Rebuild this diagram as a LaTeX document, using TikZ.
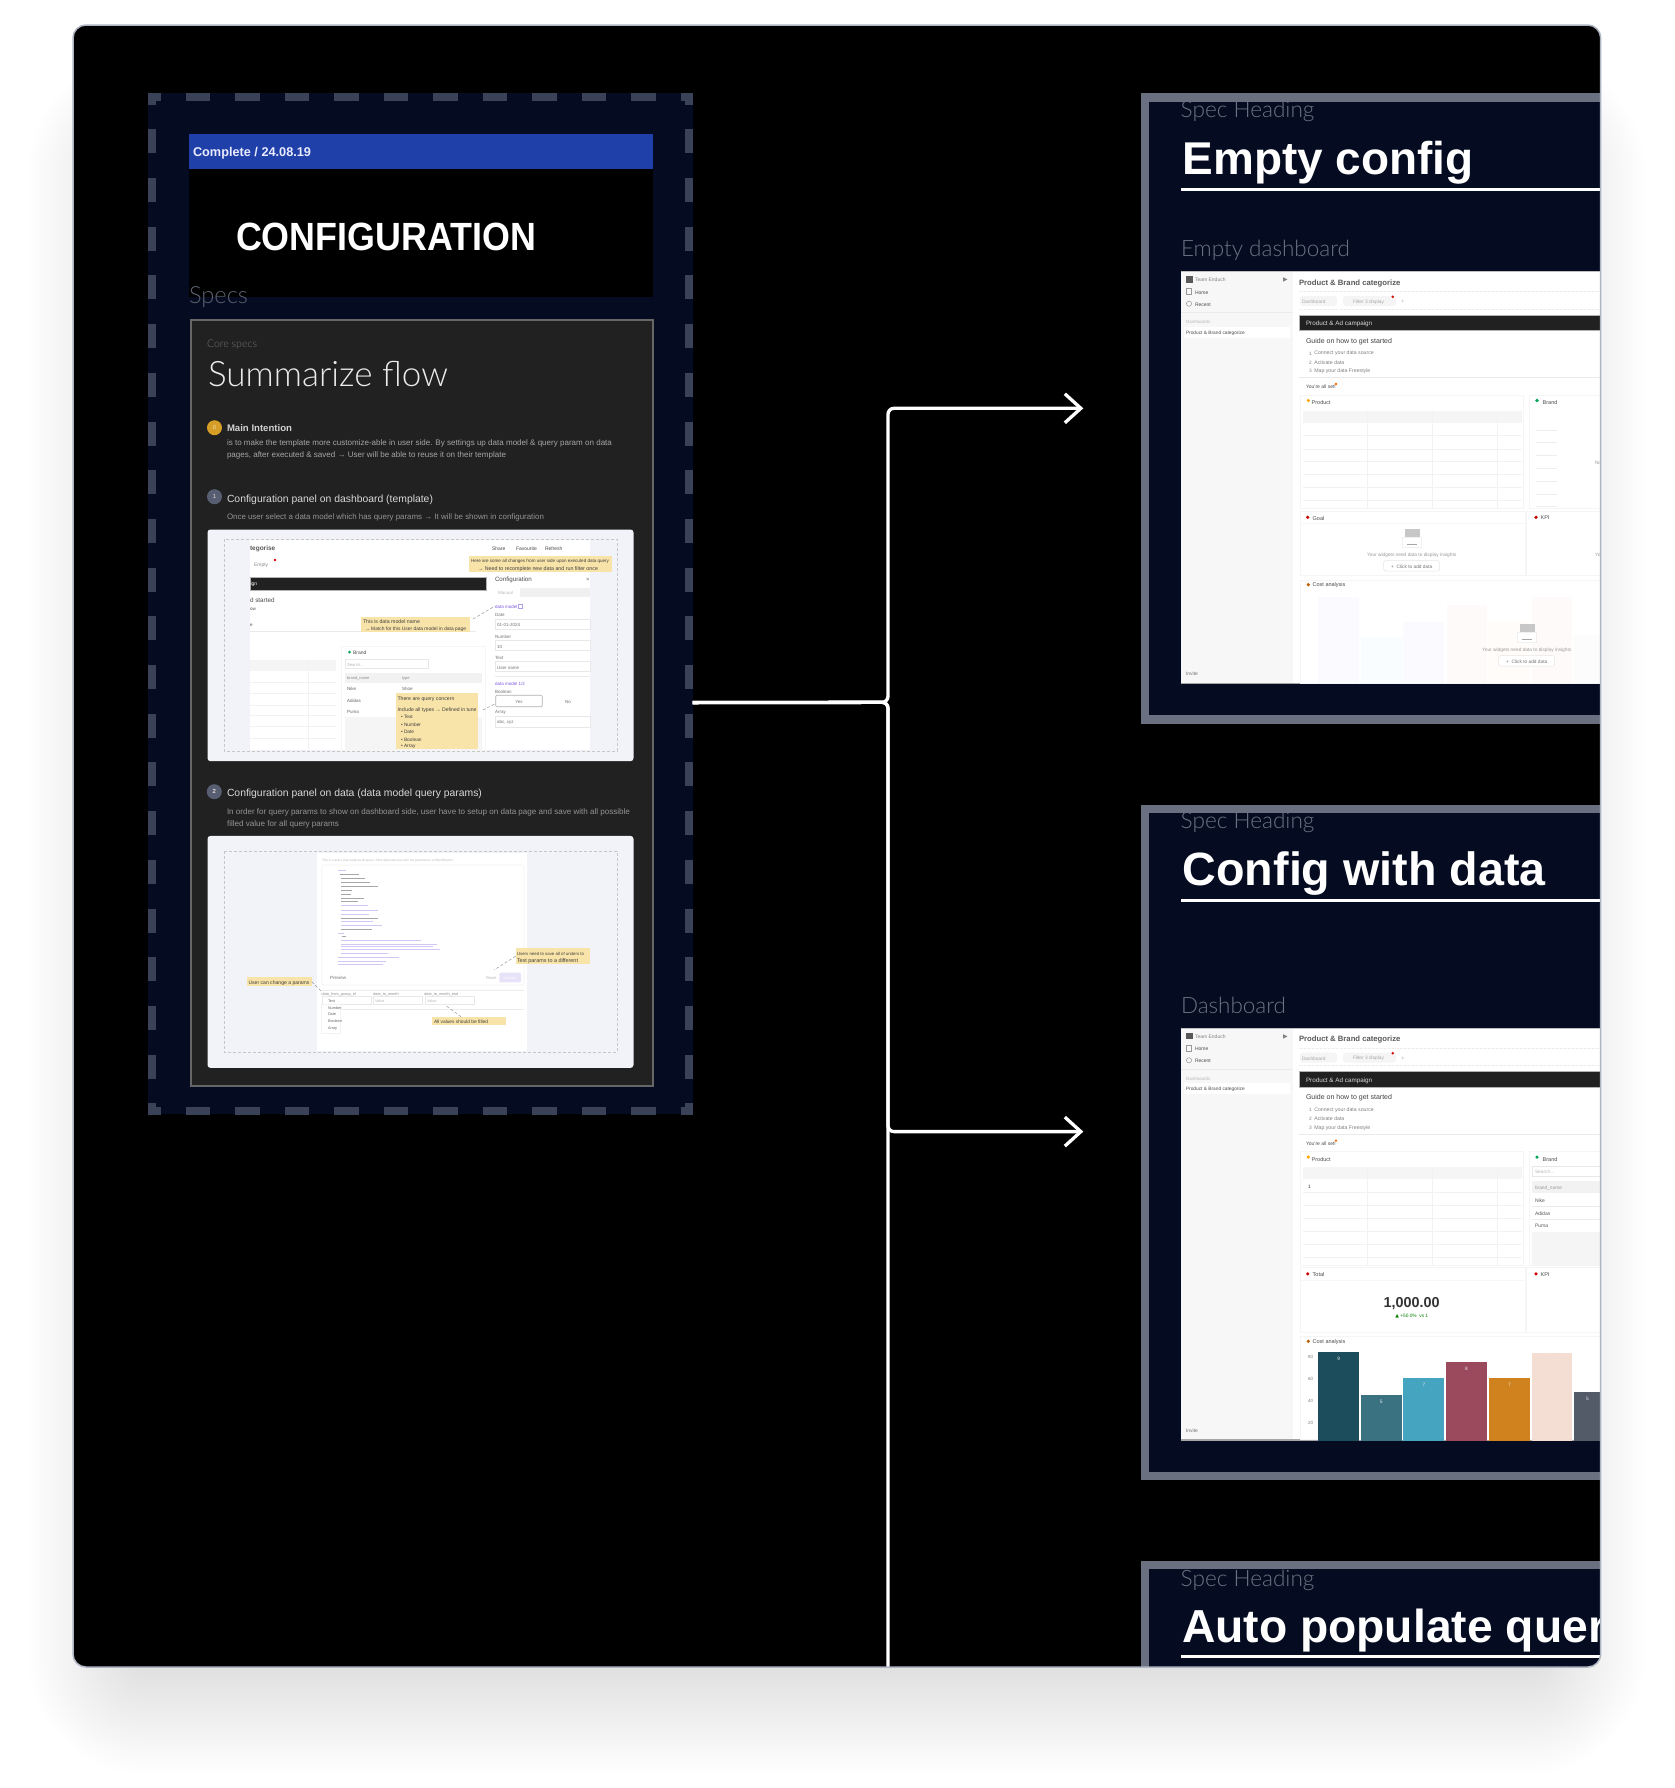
\documentclass[tikz,border=0pt]{standalone}
\usepackage{fontspec}
\usepackage{graphicx}
\setmainfont{Liberation Sans}
\newfontfamily\lightfam{Lato Light}
\newfontfamily\medfam{Liberation Sans Bold}
\newfontfamily\arrowfam{DejaVu Sans}
\usetikzlibrary{arrows.meta,calc}
\definecolor{navy}{HTML}{050B20}
\definecolor{dashc}{HTML}{3A4258}
\definecolor{framec}{HTML}{6A7080}
\definecolor{subc}{HTML}{6B7284}
\definecolor{noteb}{HTML}{F8E3A8}
\definecolor{cardc}{HTML}{212121}
\definecolor{shotc}{HTML}{F1F3F8}
\definecolor{purp}{HTML}{7C5CE0}
\definecolor{amber}{HTML}{D69E26}
\definecolor{barblue}{HTML}{1E40A8}
\definecolor{edgec}{HTML}{AEB5C2}
\newcounter{nd}
\newcommand{\T}[4][]{\stepcounter{nd}\node[lab,#1] (t\thend) at (#2,#3) {#4};}
\newcommand{\W}[2]{\resizebox{#1pt}{!}{#2}}
\tikzset{
  lab/.style={anchor=west,inner sep=0pt,outer sep=0pt,text=black!80,yshift=-0.8pt},
  fs/.style={font=\fontsize{#1}{#1}\selectfont},
  hair/.style={draw=black!8,line width=0.6pt},
  boxl/.style={draw=black!9,line width=0.6pt,fill=white},
  cardl/.style={draw=black!4,line width=0.6pt},
  note/.style={fill=noteb,draw=none,anchor=north west,inner sep=0pt,outer sep=0pt},
  notet/.style={fs=4.8,text=black!75},
  call/.style={draw=black!40,line width=0.5pt,densely dashed},
  conn/.style={draw=white,line width=3.3pt},
  tipc/.style={-{Straight Barb[length=16pt,width=29pt]}},
  cfgdash/.style={draw=dashc,line width=8pt},
  spec/.style={fill=navy,draw=framec,line width=8.3pt,anchor=north west,inner sep=0pt,outer sep=0pt},
  faint/.style={text=black!28},
  gline/.style={draw=black!22,line width=.7pt,densely dashed},
}
\newcommand{\dashbase}[1]{%
  \fill[white] (1180.7,271.7) rectangle (1600,683.3);
  \draw[draw=black!25,line width=1.2pt] (1180.7,271.7) -- (1600,271.7);
  \draw[draw=black!35,line width=1.2pt] (1180.7,683.3) -- (1600,683.3);
  \fill[black!3] (1180.7,272.3) rectangle (1293.3,682.7);
  \fill[black!65] (1186,276) rectangle (1192.5,282.5);
  \T[fs=5,text=black!50]{1195}{279.3}{Team Enduch}
  \T[fs=6,text=black!50]{1283}{279.3}{\arrowfam ▶}
  \draw[black!40,line width=.5pt] (1186.5,288.5) rectangle (1191.5,294.5);
  \T[fs=5,text=black!70]{1195}{291.7}{Home}
  \draw[black!40,line width=.5pt] (1189,303.7) circle (2.6);
  \T[fs=5,text=black!70]{1195}{303.7}{Recent}
  \draw[hair] (1181,312.7) -- (1293,312.7);
  \T[fs=4.5,faint]{1186}{321}{Dashboards}
  \fill[white] (1184,326.7) rectangle (1290,337.7);
  \T[fs=4.8,text=black!70]{1186}{332}{Product \& Brand categorize}
  \T[fs=5,text=black!55]{1186}{673.3}{Invite}
  \T[font=\fontsize{7.7}{7.7}\bfseries\selectfont,text=black!65]{1299}{282.3}{Product \& Brand categorize}
  \draw[hair,densely dotted] (1299,291.7) -- (1600,291.7);
  \draw[hair,densely dotted] (1299,309) -- (1600,309);
  \fill[black!4,rounded corners=3] (1300,296) rectangle (1337,306);
  \fill[black!4,rounded corners=3] (1343,296) rectangle (1396,306);
  \T[fs=4.8,text=black!35]{1302}{301}{Dashboard}
  \T[fs=4.8,text=black!35]{1353}{301}{Filter 3 display}
  \fill[red!85!black] (1392.7,296.7) circle (1.4);
  \T[fs=6,faint]{1401}{301}{+}
  \draw[black!30,line width=1pt,fill=cardc] (1299,315.3) rectangle (1610,330.7);
  \T[fs=6.3,text=white!85!black]{1306}{323}{Product \& Ad campaign}
  \T[fs=7,text=black!75]{1306}{340.7}{Guide on how to get started}
  \T[fs=4.8,text=black!50]{1309}{352.7}{1}
  \T[fs=4.8,text=black!50]{1309}{361.7}{2}
  \T[fs=4.8,text=black!50]{1309}{370.3}{3}
  \T[fs=5.2,text=black!50]{1314.3}{352.7}{Connect your data source}
  \T[fs=5.2,text=black!50]{1314.3}{361.7}{Activate data}
  \T[fs=5.2,text=black!50]{1314.3}{370.3}{Map your data Freestyle}
  \draw[hair] (1299,377.7) -- (1600,377.7);
  \T[fs=5,text=black!70]{1306}{386}{You're all set!}
  \fill[orange!80!red] (1336,384) circle (1.3);
  \draw[cardl] (1300,395) rectangle (1523.3,508.3);
  \draw[cardl] (1529,395) rectangle (1610,508.3);
  \fill[orange!70!yellow] (1308.3,400.5) circle (1.8);
  \T[fs=5.5,text=black!70]{1311.7}{401.7}{Product}
  \fill[teal!70!green] (1537,400.5) circle (1.8);
  \T[fs=5.5,text=black!70]{1542.7}{401.7}{Brand}
  \fill[black!4] (1303.3,410.7) rectangle (1521.7,422.7);
  \foreach \yy in {435.7,449,461.7,474.3,487.7,500.7}{\draw[draw=black!5,line width=.6pt] (1303.3,\yy) -- (1521.7,\yy);}
  \foreach \xx in {1367.3,1432.3,1497.3}{\draw[draw=black!5,line width=.6pt] (\xx,410.7) -- (\xx,508);}
  \draw[cardl] (1300,511) rectangle (1525,575.7);
  \draw[cardl] (1526.7,511) rectangle (1610,575.7);
  \draw[black!3,line width=.5pt] (1300,523.3) -- (1525,523.3);
  \fill[red!80!black] (1307.7,517.3) circle (1.8);
  \T[fs=5.5,text=black!70]{1312.7}{517.3}{#1}
  \fill[red!80!black] (1536,517.3) circle (1.8);
  \T[fs=5.5,text=black!70]{1540.7}{517.3}{KPI}
  \draw[cardl] (1300,580) rectangle (1610,683);
  \fill[orange!75!black] (1308.3,584.7) circle (1.8);
  \T[fs=5.5,text=black!70]{1312.7}{584.7}{Cost analysis}
}
\newcommand{\emptyph}[2]{%
  \fill[black!22] (#1-7,#2-9) rectangle (#1+8,#2);
  \fill[white,draw=black!6,line width=.4pt] (#1-9.5,#2-1.3) rectangle (#1+9,#2+9.3);
  \draw[black!35,line width=.7pt] (#1-5,#2+6.5) -- (#1+5,#2+6.5);
  \T[fs=4.8,anchor=center,text=black!40]{#1}{#2+16}{Your widgets need data to display insights}
  \draw[black!10,line width=.5pt,fill=white,rounded corners=1.5] (#1-28,#2+22.7) rectangle (#1+28,#2+33);
  \T[fs=4.8,anchor=center,text=black!55]{#1}{#2+28}{+\ \ Click to add data}
}
\begin{document}
\begin{tikzpicture}[x=1pt,y=-1pt]
\useasboundingbox (0,0) rectangle (1674,1788);
\fill[white] (0,0) rectangle (1674,1788);
% soft shadow
\foreach \t in {0,3.5,...,105}{
  \fill[black,opacity=0.0036,rounded corners={(13+\t)*1pt}]
    (133-\t,160-\t) rectangle (1540+\t,1669+\t);
}
\begin{scope}
\clip[rounded corners=13] (73,25) rectangle (1600.7,1667);
\fill[black] (73,25) rectangle (1600.7,1667);

% ---------- left section
\node[fill=navy,draw=none,anchor=north west,inner sep=0pt,outer sep=0pt,minimum width=544.5pt,minimum height=1021pt] (cfg) at (148,93.3) {};
\draw[cfgdash,dash pattern=on 24.7pt off 24.8pt,dash phase=12pt] (148,97.3) -- (692.5,97.3);
\draw[cfgdash,dash pattern=on 24.7pt off 24.8pt,dash phase=12pt] (148,1110.7) -- (692.5,1110.7);
\draw[cfgdash,dash pattern=on 24pt off 24.7pt,dash phase=12.7pt] (152,93.3) -- (152,1114.3);
\draw[cfgdash,dash pattern=on 24pt off 24.7pt,dash phase=12.7pt] (688.5,93.3) -- (688.5,1114.3);

\node[fill=black,anchor=north west,inner sep=0pt,minimum width=463.7pt,minimum height=163.4pt] (hdr) at (189,133.3) {};
\node[fill=barblue,anchor=north west,inner sep=0pt,minimum width=463.7pt,minimum height=35pt] (bar) at (189,133.3) {};
\T[anchor=base west,font=\fontsize{12}{12}\bfseries\selectfont,text=white!92!blue]{193}{156}{\W{118}{Complete / 24.08.19}}
\T[anchor=base west,font=\fontsize{37}{37}\bfseries\selectfont,text=white]{236}{250}{\resizebox{300pt}{27.5pt}{CONFIGURATION}}
\T[anchor=base west,fs=22,text=subc!85!black]{189}{303}{\W{59}{\lightfam Specs}}

\node[fill=cardc,draw=black!60,line width=2pt,anchor=north west,inner sep=0pt,minimum width=462pt,minimum height=765.5pt] (card) at (190,319.3) {};
\T[anchor=base west,fs=9.5,text=black!55]{207}{347}{\W{50}{\lightfam Core specs}}
\T[anchor=base west,fs=33,text=white!92!black]{208}{386}{\W{240}{\lightfam Summarize flow}}

\node[circle,fill=amber,minimum size=15pt,inner sep=0pt,font=\fontsize{6}{6}\selectfont,text=white!60!amber] (c0) at (214.5,427.7) {0};
\T[font=\fontsize{10}{10}\bfseries\selectfont,text=black!18]{227}{427.7}{\W{65}{Main Intention}}
\T[text=black!35,fs=8]{227}{442.7}{\W{385}{is to make the template more customize-able in user side. By settings up data model \& query param on data}}
\T[text=black!35,fs=8]{227}{455}{\W{279}{pages, after executed \& saved → User will be able to reuse it on their template}}

\node[circle,fill=dashc!85!white,minimum size=15pt,inner sep=0pt,font=\fontsize{6}{6}\selectfont,text=white!85!black] (c1) at (214.5,496.7) {1};
\T[fs=10,text=black!15]{227}{499}{\W{206}{Configuration panel on dashboard (template)}}
\T[text=black!42,fs=8]{227}{516.7}{\W{317}{Once user select a data model which has query params → It will be shown in configuration}}

% ---------- screenshot 1
\node[fill=shotc,rounded corners=3,anchor=north west,inner sep=0pt,minimum width=426pt,minimum height=231.7pt] (shotA) at (207.3,529.3) {};
\fill[white] (250,540) rectangle (590,750);
\draw[gline] (224.3,539) rectangle (617.3,751);
\T[font=\fontsize{6.5}{6.5}\bfseries\selectfont,text=black!65]{250}{547.7}{tegorise}
\T[fs=5,text=black!70]{492}{547.7}{Share}
\T[fs=5,text=black!70]{516}{547.7}{Favourite}
\T[fs=5,text=black!70]{545}{547.7}{Refresh}
\T[fs=5,text=black!45]{254}{564}{Empty}
\fill[red!85!black] (275,560) circle (1.3);
\node[fill=cardc,draw=black!30,line width=.8pt,anchor=north west,inner sep=0pt,minimum width=235.7pt,minimum height=13.3pt] (bkA) at (250,576.7) {};
\T[fs=5,text=white]{250.5}{583.3}{ign}
\T[fs=6.3,text=black!70]{250}{599}{d started}
\T[fs=4.5,text=black!70]{250}{609}{ow}
\T[fs=4.5,text=black!70]{250}{625}{e}
\draw[hair] (250,631.7) -- (476,631.7);
\T[fs=6.2,text=black!70]{495}{578.7}{Configuration}
\T[fs=6,text=black!55]{586}{578.7}{×}
\fill[black!6] (520,588) rectangle (590,596.7);
\T[fs=4.5,faint]{498}{592.3}{Manual}
\T[fs=4.5,text=purp]{495}{606}{data model}
\draw[purp!60,line width=.5pt] (518,604) rectangle (522,608);
\T[fs=4.5,text=black!55]{495}{614.3}{Date}
\draw[boxl] (495,619.3) rectangle (590,629.3);
\T[fs=4.5,text=black!55]{497}{624.3}{01-01-2024}
\T[fs=4.5,text=black!55]{495}{635.7}{Number}
\draw[boxl] (495,640.7) rectangle (590,650.7);
\T[fs=4.5,text=black!55]{497}{645.7}{10}
\T[fs=4.5,text=black!55]{495}{656.7}{Text}
\draw[boxl] (495,661.7) rectangle (590,671.7);
\T[fs=4.5,text=black!55]{497}{666.7}{User name}
\draw[hair] (495,676) -- (590,676);
\T[fs=4.5,text=purp]{495}{683.3}{data model 1/2}
\T[fs=4.5,text=black!55]{495}{691.3}{Boolean}
\draw[draw=black!30,line width=.7pt,fill=white,rounded corners=1] (495.7,695.3) rectangle (542.3,706.7);
\T[fs=4.5,anchor=center,text=black!55]{519}{701}{Yes}
\T[fs=4.5,anchor=center,text=black!55]{568}{701}{No}
\T[fs=4.5,text=black!55]{495}{711.7}{Array}
\draw[boxl] (495,716.7) rectangle (590,727);
\T[fs=4.5,text=black!55]{497}{722}{abc, xyz}
% left table
\fill[black!4] (250,660) rectangle (335.7,670.7);
\foreach \yy in {682.3,693.3,705,715.7,726.7,738.3}{\draw[draw=black!5,line width=.6pt] (250,\yy) -- (335.7,\yy);}
\draw[draw=black!5,line width=.6pt] (308,660) -- (308,750);
% brand table
\draw[cardl] (341.7,646.7) rectangle (485,750);
\fill[teal!70!green] (349.5,652) circle (1.5);
\T[fs=5,text=black!70]{353}{652}{Brand}
\draw[boxl] (345,659.3) rectangle (428,668);
\T[fs=4.2,faint]{347}{663.7}{Search...}
\fill[black!5] (345,672.7) rectangle (481.7,682.7);
\T[fs=4,text=black!45]{347}{677.7}{brand\_name}
\T[fs=4,text=black!45]{402}{677.7}{type}
\T[fs=4.5,text=black!60]{347}{688.3}{Nike}
\T[fs=4.5,text=black!60]{402}{688.3}{Shoe}
\T[fs=4.5,text=black!60]{347}{699.7}{Adidas}
\T[fs=4.5,text=black!60]{347}{711}{Puma}
\fill[black!4] (345,716.7) rectangle (481.7,750);
% notes
\node[note,minimum width=142.7pt,minimum height=16pt] (nA) at (469,556) {};
\T[notet]{471}{560.5}{\W{138}{Here are some all changes from user side upon executed data query}}
\T[notet]{478}{568}{\W{120}{→ Need to recomplete new data and run filter once}}
\node[note,minimum width=109.3pt,minimum height=15pt] (nB) at (360.7,616.7) {};
\T[notet]{363}{621}{\W{57}{This is data model name}}
\T[notet]{365}{628.5}{\W{101}{→ Match for this User data model in data page}}
\node[note,minimum width=82.6pt,minimum height=56pt] (nC) at (395.7,693.3) {};
\T[notet]{397.5}{698}{\W{57}{There are query concern}}
\T[notet]{397.5}{709.5}{\W{79}{Include all types → Defined in tune}}
\T[notet]{401}{716.5}{• Text}
\T[notet]{401}{723.5}{• Number}
\T[notet]{401}{731}{• Date}
\T[notet]{401}{738.5}{• Boolean}
\T[notet]{401}{745.5}{• Array}
\coordinate (ptB) at (495,606);
\coordinate (ptC) at (495,704);
\draw[call] (473,619) -- (ptB);
\draw[call] (482.7,710) -- (ptC);

% ---------- section 2
\node[circle,fill=dashc!85!white,minimum size=15pt,inner sep=0pt,font=\fontsize{6}{6}\bfseries\selectfont,text=white!85!black] (c2) at (214.3,791.7) {2};
\T[fs=10,text=black!15]{227}{793.3}{\W{255}{Configuration panel on data (data model query params)}}
\T[text=black!42,fs=8]{227}{811.3}{\W{403}{In order for query params to show on dashboard side, user have to setup on data page and save with all possible}}
\T[text=black!42,fs=8]{227}{823.3}{\W{112}{filled value for all query params}}

\node[fill=shotc,rounded corners=3,anchor=north west,inner sep=0pt,minimum width=426pt,minimum height=232pt] (shotB) at (207.3,835.7) {};
\fill[white] (316.7,853) rectangle (526.7,1051);
\draw[gline] (224.3,851) rectangle (617.3,1052);
\T[fs=4,faint]{322}{860}{\W{131}{This is a query that replaces all query / filter dependencies with the parameters of filter/filtration}}
\draw[black!5,line width=.6pt,rounded corners=2] (321.7,865) rectangle (524,985);
\foreach \yy/\aa/\bb/\cc in {302/443/468/purp,314/450/508/black,326/452/525/black,338/452/540/black,350/452/565/black,361/452/487/black,372/452/483/black,384/452/523/black,395/452/503/black,407/452/535/purp,420/452/565/purp,432/452/537/purp,444/452/565/black,455/452/550/purp,467/452/575/purp,478/452/547/black,490/443/463/purp,500/455/468/black,512/452/692/purp,522/452/740/purp,530/452/730/purp,538/452/750/purp,549/452/595/purp,561/443/627/purp,573/443/587/purp,584/443/580/purp}{
  \draw[\cc!35,line width=.8pt] ({190+\aa/3},{770+\yy/3}) -- ({190+\bb/3},{770+\yy/3});
}
\T[fs=4.5,text=black!55]{330}{977}{Preview}
\T[fs=4,faint]{486}{977}{Reset}
\fill[purp!18,rounded corners=1] (499.3,972.7) rectangle (521,982.3);
\T[fs=3.5,anchor=center,text=white]{510}{977.5}{Execute}
\draw[hair] (321.7,990) -- (524,990);
\T[fs=3.8,text=black!45]{321.7}{993.7}{data\_from\_group\_id}
\T[fs=3.8,text=black!45]{373.3}{993.7}{date\_to\_month}
\T[fs=3.8,text=black!45]{424.3}{993.7}{date\_to\_month\_end}
\draw[boxl] (322,996.7) rectangle (371,1004);
\draw[boxl] (373,996.7) rectangle (422,1004);
\draw[boxl] (425,996.7) rectangle (474,1004);
\T[fs=3.8,faint]{375}{1000.5}{Value}
\T[fs=3.8,faint]{427}{1000.5}{Value}
\draw[hair] (322,1009) -- (524,1009);
\fill[white,draw=black!5,line width=.4pt] (321.5,1004) rectangle (340,1033);
\T[fs=3.8,text=black!60]{328}{1000}{Text}
\T[fs=3.8,text=black!60]{328}{1007}{Number}
\T[fs=3.8,text=black!60]{328}{1013.7}{Date}
\T[fs=3.8,text=black!60]{328}{1020.3}{Boolean}
\T[fs=3.8,text=black!60]{328}{1027.3}{Array}
\node[note,minimum width=65pt,minimum height=8.7pt] (nD) at (246.7,977.3) {};
\T[notet]{248.5}{982}{\W{61}{User can change a params}}
\node[note,minimum width=74.3pt,minimum height=15.7pt] (nE) at (515.7,948.3) {};
\T[notet]{517}{953}{\W{67}{Users need to save all of unders to}}
\T[notet]{517}{960.5}{\W{61}{Test params to a different}}
\node[note,minimum width=73.4pt,minimum height=8.6pt] (nF) at (432.3,1016.7) {};
\T[notet]{434}{1021.3}{\W{54}{All values should be filled}}
\coordinate (ptD) at (321.7,991.7);
\coordinate (ptE) at (494,970);
\coordinate (ptF) at (445,1005);
\draw[call] (nD.east) -- (ptD);
\draw[call] (nE.west) -- (ptE);
\draw[call] (nF.north) ++(-8,0) -- (ptF);

% ---------- connectors
\coordinate (out) at ([yshift=-98.8pt]cfg.east);
\coordinate (trunkA) at (888,702.3);
\coordinate (trunkB) at (888,408.3);
\coordinate (trunkC) at (888,1131.6);
\coordinate (trunkD) at (888,1720);
\coordinate (arrowA) at (1083.3,408.3);
\coordinate (arrowB) at (1083.3,1131.6);
\draw[conn,rounded corners=6pt,tipc] (out) -- (trunkA) -- (trunkB) -- (arrowA);
\draw[conn,rounded corners=6pt,tipc] (out) -- (trunkA) -- (trunkC) -- (arrowB);
\draw[conn,rounded corners=6pt] (out) -- (trunkA) -- (trunkD);

% ---------- frame 1
\node[spec,minimum width=520pt,minimum height=622pt] (specA) at (1144.8,97.4) {};
\T[anchor=base west,fs=21,text=subc]{1180.7}{116.7}{\W{133.7}{\lightfam Spec Heading}}
\T[anchor=base west,text=white]{1182.7}{173.3}{\W{291}{\fontsize{46}{46}\medfam Empty config}}
\fill[white] (1180.7,187.5) rectangle (1600.7,190.8);
\T[anchor=base west,fs=21,text=subc]{1181}{255.7}{\W{169}{\lightfam Empty dashboard}}
\dashbase{Goal}
\foreach \xa/\xb/\yy/\cc in {565/687/500/blue,692/815/620/cyan,820/943/575/blue,950/1071/525/red,1075/1199/575/orange,1205/1327/500/red,1333/1410/615/gray}{
  \fill[\cc!2] ({1130+\xa/3},{430+\yy/3}) rectangle ({1130+\xb/3},682.7);
}
\emptyph{1411.7}{538}
\emptyph{1526.7}{633}
\foreach \yy in {430,442.7,455.7,468.3,481,494,506.7}{
  \draw[black!7,line width=1pt] (1535.7,\yy) -- (1557,\yy);
}
\T[fs=4.8,text=black!40]{1595}{554}{Yo}
\T[fs=4.8,text=black!40]{1595}{462}{No}

% ---------- frame 2
\node[spec,minimum width=520pt,minimum height=667pt] (specB) at (1144.8,808.9) {};
\T[anchor=base west,fs=21,text=subc]{1180.7}{828}{\W{133.7}{\lightfam Spec Heading}}
\T[anchor=base west,text=white]{1182.7}{884.3}{\W{363}{\fontsize{46}{46}\medfam Config with data}}
\fill[white] (1180.7,898.8) rectangle (1600.7,902.1);
\T[anchor=base west,fs=21,text=subc]{1181}{1012.7}{\W{105}{\lightfam Dashboard}}
\begin{scope}[shift={(0,756.6)}]
\dashbase{Total}
\end{scope}
\T[fs=4.8]{1308}{1185.7}{1}
\T[anchor=center,font=\fontsize{14}{14}\bfseries\selectfont,text=black!80]{1411.7}{1302.3}{\W{56}{1,000.00}}
\T[fs=4.8,anchor=center,text=green!50!black]{1411.7}{1315.7}{{\arrowfam ▲} +50.0\%\ \ vs 1}
\draw[boxl] (1532,1166) rectangle (1610,1176.7);
\T[fs=4.8,faint]{1535}{1171.3}{Search...}
\fill[black!5] (1532,1181) rectangle (1610,1193.3);
\T[fs=4.8,text=black!40]{1535}{1187}{brand\_name}
\T[fs=5,text=black!65]{1535}{1199.7}{Nike}
\T[fs=5,text=black!65]{1535}{1212.7}{Adidas}
\T[fs=5,text=black!65]{1535}{1225.3}{Puma}
\draw[hair] (1532,1206) -- (1610,1206);
\draw[hair] (1532,1219) -- (1610,1219);
\fill[black!4] (1532,1231.7) rectangle (1610,1266);
\foreach \xa/\xb/\yy/\cc/\vv in {565/687/997/1B4D5C/9,692/815/1125/3A7282/5,820/943/1075/45A4C0/7,948/1071/1025/9B4A5E/8,1077/1199/1075/D0821E/7,1205/1327/1000/F4DDD2/9,1333/1412/1115/535A68/5}{
  \definecolor{barc}{HTML}{\cc}
  \fill[barc] ({1130+\xa/3},{1020+\yy/3}) rectangle ({1130+\xb/3},1440.5);
  \T[fs=4.8,anchor=center,text=white!85!gray]{{1130+(\xa+\xb)/6}}{{1020+\yy/3+6}}{\vv}
}
\foreach \yy/\vv in {1007/80,1073/60,1139/40,1205/20}{
  \T[fs=4.5,anchor=center,text=black!50]{1310.5}{{1020+\yy/3}}{\vv}
}

% ---------- frame 3
\node[spec,minimum width=520pt,minimum height=160pt] (specC) at (1144.8,1565) {};
\T[anchor=base west,fs=21,text=subc]{1180.7}{1586}{\W{133.7}{\lightfam Spec Heading}}
\T[anchor=base west,text=white]{1182}{1641.7}{\W{424}{\fontsize{46}{46}\medfam Auto populate quer}}
\fill[white] (1180.7,1655) rectangle (1600.7,1658.3);
\end{scope}
\draw[draw=edgec,line width=1.5pt,rounded corners=13] (73,25) rectangle (1600.7,1667);
\end{tikzpicture}
\end{document}
